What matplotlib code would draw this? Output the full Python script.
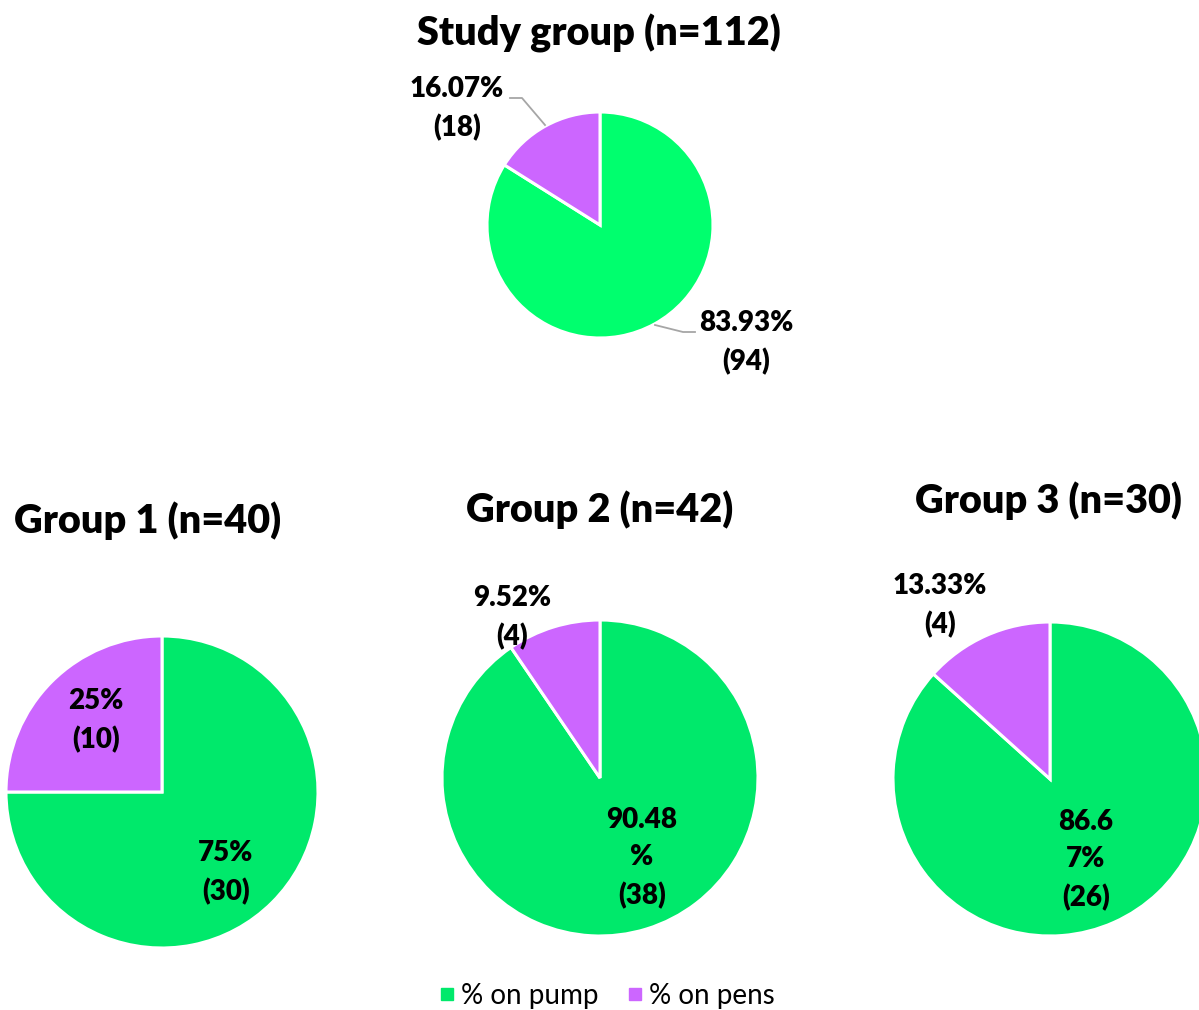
import matplotlib.pyplot as plt
from matplotlib.lines import Line2D

plt.rcParams['font.family'] = ['Lato', 'DejaVu Sans']

# counts per group: on pump, on pens
groups = ['Study group', 'Group 1', 'Group 2', 'Group 3']
on_pump = [94, 30, 38, 26]
on_pens = [18, 10, 4, 4]
series_names = ['% on pump', '% on pens']

pump_colors = ['#00FF6E', '#00E96B', '#00E96B', '#00E96B']
pens_color = '#CC66FF'

W, H = 1199, 1010

# layout in pixels (x right, y down): pie centre, radius, title pos,
# label positions for pump/pens and where the percent text wraps
layout = [
    dict(c=(600, 225), r=113, title=(599, 33), pump_xy=(746, 343), pens_xy=(457, 109),
         pump_wrap=None, leaders=True),
    dict(c=(162, 792), r=156, title=(148, 521), pump_xy=(226, 873), pens_xy=(96, 721),
         pump_wrap=None, leaders=False),
    dict(c=(600, 778), r=158, title=(600, 510), pump_xy=(642, 858), pens_xy=(512, 618),
         pump_wrap=5, leaders=False),
    dict(c=(1050, 779), r=157, title=(1048, 501), pump_xy=(1086, 860), pens_xy=(940, 606),
         pump_wrap=4, leaders=False),
]


def pct_text(k, n, wrap=None):
    p = 100.0 * k / n
    s = f'{p:.2f}'
    if s.endswith('.00'):
        s = s[:-3]
    s += '%'
    if wrap is not None:
        s = s[:wrap] + '\n' + s[wrap:]
    return f'{s}\n({k})'


def up(xy):
    return (xy[0], H - xy[1])


fig = plt.figure(figsize=(W / 100, H / 100), dpi=100)
ax = fig.add_axes([0, 0, 1, 1])

lab_kw = dict(fontsize=20, fontweight='heavy', ha='center', va='center',
              linespacing=1.53, color='black')

for i, g in enumerate(groups):
    L = layout[i]
    n = on_pump[i] + on_pens[i]
    ax.pie([on_pump[i], on_pens[i]], colors=[pump_colors[i], pens_color],
           startangle=90, counterclock=False, center=up(L['c']), radius=L['r'],
           wedgeprops=dict(edgecolor='white', linewidth=2.2), frame=True)
    tx, ty = up(L['title'])
    ax.text(tx, ty, f'{g} (n={n})', fontsize=28.5, fontweight='heavy',
            ha='center', va='center')
    ax.text(*up(L['pump_xy']), pct_text(on_pump[i], n, L['pump_wrap']), **lab_kw)
    ax.text(*up(L['pens_xy']), pct_text(on_pens[i], n), **lab_kw)

    if L['leaders']:
        ax.plot([510, 522, 545], [H - 98, H - 98, H - 125], color='#A6A6A6', lw=1.3)
        ax.plot([655, 683, 695], [H - 325, H - 332, H - 332], color='#A6A6A6', lw=1.3)

ax.set_xlim(0, W)
ax.set_ylim(0, H)
ax.set_aspect('equal')
ax.axis('off')

handles = [Line2D([], [], marker='s', linestyle='none', markersize=8,
                  markerfacecolor=c, markeredgecolor=c)
           for c in [pump_colors[1], pens_color]]
fig.legend(handles, series_names, loc='center', bbox_to_anchor=(604 / W, 1 - 996 / H),
           ncol=2, frameon=False, fontsize=20, handletextpad=0.0, columnspacing=0.8,
           handlelength=1.0, borderaxespad=0)

fig.savefig('out.png', dpi=100)
